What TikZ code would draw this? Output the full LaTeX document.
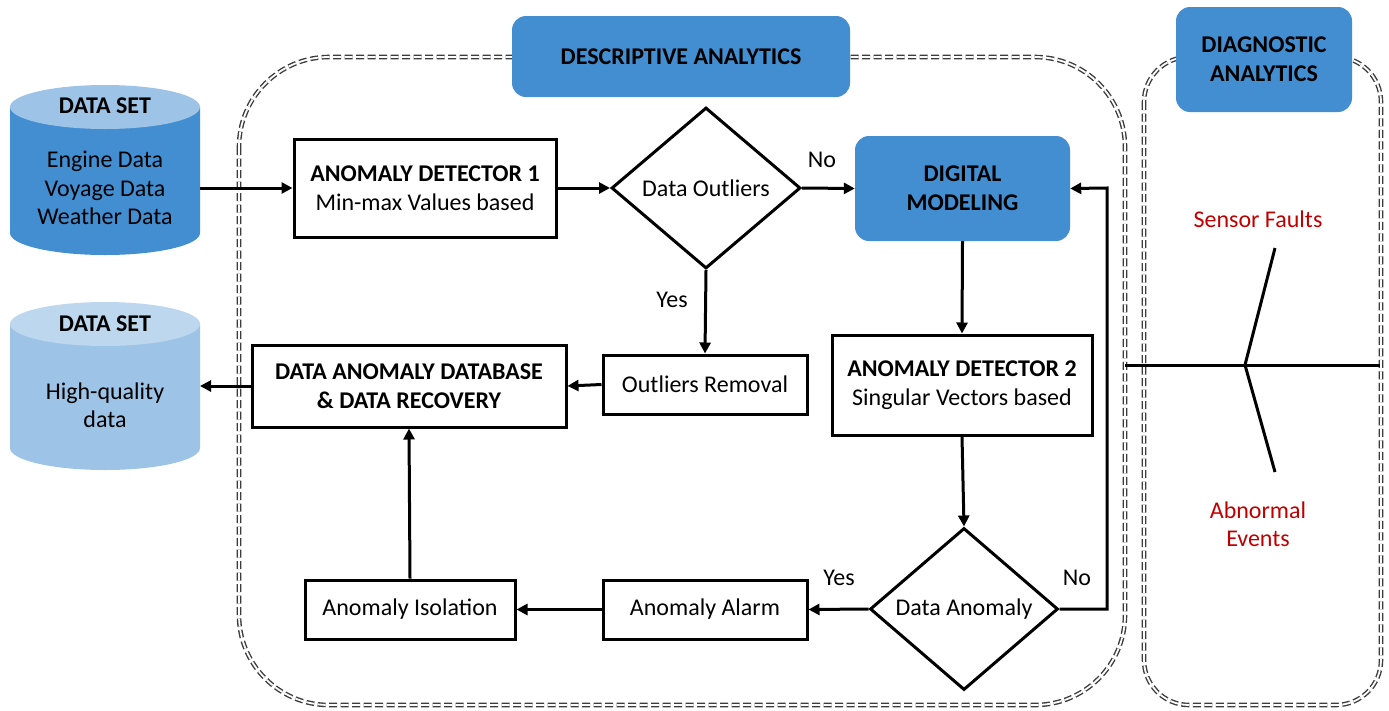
\documentclass[tikz,border=0pt]{standalone}
\usepackage{fontspec}
\setmainfont{Carlito}
\usetikzlibrary{shapes.geometric,arrows.meta}
\definecolor{bluebox}{RGB}{66,142,208}
\definecolor{bluetop}{RGB}{157,195,230}
\definecolor{lightbody}{RGB}{157,195,230}
\definecolor{lighttop}{RGB}{189,215,238}
\definecolor{redtxt}{RGB}{192,0,0}
\definecolor{dashgray}{RGB}{60,60,60}
\begin{document}
\begin{tikzpicture}[x=1pt,y=-1pt,
  font=\fontsize{24}{29}\selectfont,
  procbox/.style={draw=black, line width=3pt, fill=white, align=center, inner sep=0pt},
  bluebx/.style={fill=bluebox, rounded corners=14pt, align=center, inner sep=0pt, font=\fontsize{24}{29}\selectfont\bfseries},
  decis/.style={diamond, draw=black, line width=3pt, fill=white, inner sep=0pt, aspect=1.17},
  conn/.style={line width=3pt, -{Triangle[length=11pt,width=11pt]}},
  region/.style={draw=dashgray, double=white, double distance=1.8pt, line width=1.4pt, dash pattern=on 8pt off 3.5pt},
  lbl/.style={inner sep=0pt},
  redlbl/.style={text=redtxt, align=center, inner sep=0pt}
]
\useasboundingbox (0,0) rectangle (1389,710);

% regions
\draw[region, rounded corners=90pt] (239,57) rectangle (1125,705);
\draw[region, rounded corners=45pt] (1144,57) rectangle (1381,705);

% header boxes
\node[bluebx, minimum width=338pt, minimum height=81pt] (desc) at (681,56.5) {DESCRIPTIVE ANALYTICS};
\node[bluebx, minimum width=176pt, minimum height=105pt] (diag) at (1264,59.5) {DIAGNOSTIC\\ANALYTICS};

% cylinder 1
\fill[bluebox] (10,107) -- (10,233) arc[start angle=180,end angle=360,x radius=95pt,y radius=22pt] -- (200,107) -- cycle;
\fill[bluetop] (105,107) ellipse[x radius=95pt, y radius=22pt];
\node[lbl, font=\fontsize{24}{29}\selectfont\bfseries] (ds1t) at (105,106) {DATA SET};
\node[lbl, align=center, font=\fontsize{24}{28.5}\selectfont] (ds1) at (105,188) {Engine Data\\Voyage Data\\Weather Data};
\coordinate (ds1r) at (200,188);

% cylinder 2
\fill[lightbody] (10,324) -- (10,448) arc[start angle=180,end angle=360,x radius=95pt,y radius=22pt] -- (200,324) -- cycle;
\fill[lighttop] (105,324) ellipse[x radius=95pt, y radius=22pt];
\node[lbl, font=\fontsize{24}{29}\selectfont\bfseries] (ds2t) at (105,324) {DATA SET};
\node[lbl, align=center, font=\fontsize{24}{28.5}\selectfont] (ds2) at (105,405) {High-quality\\data};
\coordinate (ds2r) at (200,386);

% process boxes
\node[procbox, minimum width=262pt, minimum height=98pt, font=\fontsize{24}{29}\selectfont] (ad1) at (425,188) {\textbf{ANOMALY DETECTOR 1}\\Min-max Values based};
\node[decis, minimum width=189pt, minimum height=161pt] (dout) at (706,188) {Data Outliers};
\node[bluebx, minimum width=215pt, minimum height=105pt] (dig) at (962.5,188.5) {DIGITAL\\MODELING};
\node[procbox, minimum width=204pt, minimum height=59pt] (orem) at (705,384.5) {Outliers Removal};
\node[procbox, minimum width=314pt, minimum height=82pt, font=\fontsize{24}{29}\selectfont\bfseries] (db) at (409,386) {DATA ANOMALY DATABASE\\\& DATA RECOVERY};
\node[procbox, minimum width=260pt, minimum height=100pt, font=\fontsize{24}{29}\selectfont] (ad2) at (962,385) {\textbf{ANOMALY DETECTOR 2}\\Singular Vectors based};
\node[decis, minimum width=188pt, minimum height=162pt] (dan) at (964,609) {Data Anomaly};
\node[procbox, minimum width=204pt, minimum height=59pt] (alarm) at (705,609.5) {Anomaly Alarm};
\node[procbox, minimum width=210pt, minimum height=59pt] (iso) at (410,609.5) {Anomaly Isolation};

% connectors
\draw[conn] (ds1r) -- (ad1.west);
\draw[conn] (ad1.east) -- (dout.west);
\draw[conn] (dout.east) -- (dig.west);
\draw[conn] (dout.south) -- (orem.north);
\draw[conn] (orem.west) -- (db.east);
\draw[conn] (db.west) -- (ds2r);
\draw[conn] (dig.south) -- (ad2.north);
\draw[conn] (ad2.south) -- (dan.north);
\draw[conn] (dan.west) -- (alarm.east);
\draw[conn] (alarm.west) -- (iso.east);
\draw[conn] (iso.north) -- (db.south);
\coordinate (loopb) at (1107,609);
\coordinate (loopt) at (1107,188);
\draw[conn] (dan.east) -- (loopb) -- (loopt) -- (dig.east);

% labels
\node[lbl] (no1) at (822,160) {No};
\node[lbl] (yes1) at (672,300) {Yes};
\node[lbl] (yes2) at (839,578) {Yes};
\node[lbl] (no2) at (1077,578) {No};

% fishbone
\coordinate (fbl) at (1125,365);
\coordinate (fbr) at (1380,365);
\coordinate (fbj) at (1245,365);
\coordinate (fbu) at (1275,248);
\coordinate (fbd) at (1275,472);
\draw[line width=3pt] (fbl) -- (fbr);
\draw[line width=3pt] (fbj) -- (fbu);
\draw[line width=3pt] (fbj) -- (fbd);
\node[redlbl] (sf) at (1258,219) {Sensor Faults};
\node[redlbl, font=\fontsize{24}{28}\selectfont] (ae) at (1258,524) {Abnormal\\Events};
\end{tikzpicture}
\end{document}
